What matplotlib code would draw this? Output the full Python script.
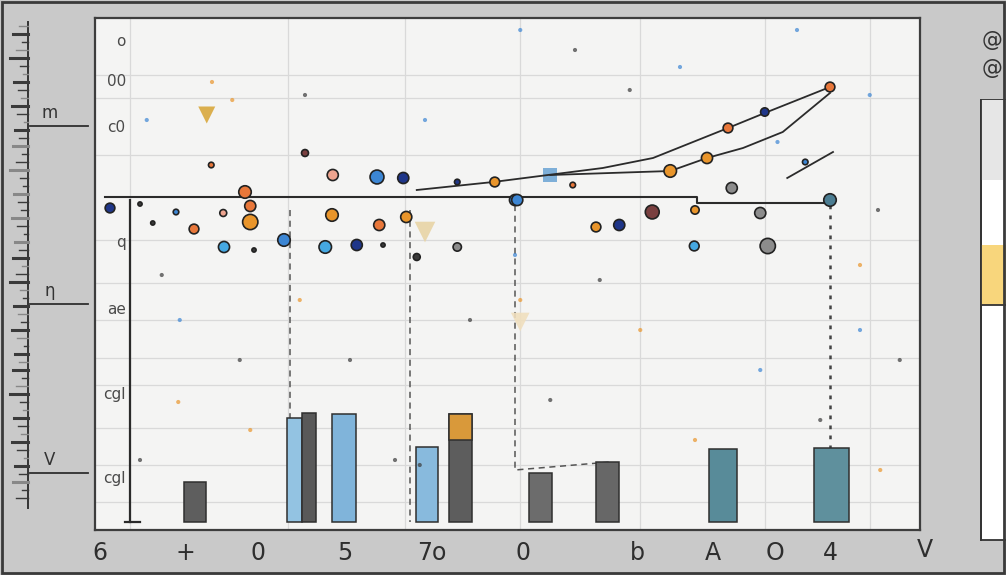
#abstract sketch chart: bars, rising lines, scattered markers, ruler on the left
import numpy as np
import matplotlib.pyplot as plt
from matplotlib.patches import Rectangle

# ---- data ----
bar_x = [1.33, 2.66, 2.85, 3.32, 4.43, 4.87, 5.94, 6.83, 8.37, 9.82]
bar_h = [8.0, 20.8, 21.8, 21.6, 15.0, 21.6, 9.8, 12.0, 14.6, 14.8]
bar_cap = [0, 0, 0, 0, 0, 5.2, 0, 0, 0, 0]

lineA_x = [4.29, 5.31, 6.77, 7.44, 8.44, 8.93, 9.80]
lineA_y = [66.4, 68.0, 70.8, 72.8, 78.8, 81.8, 87.0]
lineB_x = [6.07, 7.67, 8.16, 8.64, 9.17, 9.80]
lineB_y = [69.4, 70.2, 72.8, 74.8, 78.0, 85.8]
lineC_x = [9.23, 9.84]
lineC_y = [68.8, 74.0]
flat_x = [0.13, 8.03, 8.03, 9.80]
flat_y = [65.0, 65.0, 63.8, 63.8]

# big markers: x, y, colour key
pts_x = [2.0, 2.07, 2.07, 1.32, 1.71, 1.08, 0.6, 0.77, 1.72, 2.52, 3.07, 3.49,
         3.84, 2.12, 3.17, 3.76, 4.11, 3.16, 3.79, 4.15, 4.83, 4.29, 2.8, 1.55,
         5.33, 5.6, 4.83, 8.44, 8.93, 9.8, 7.67, 8.16, 6.37, 5.63, 7.43, 6.68,
         6.99, 7.99, 8.97, 8.49, 8.87, 9.8, 8.0, 9.47, 0.2]
pts_y = [66.0, 63.2, 60.0, 58.6, 61.8, 62.0, 63.6, 59.8, 55.0, 56.4, 55.0, 55.4,
         55.4, 54.4, 69.4, 69.0, 68.8, 61.4, 59.4, 61.0, 55.0, 53.0, 73.8, 71.4,
         68.0, 64.4, 68.0, 78.8, 82.0, 87.0, 70.2, 72.8, 67.4, 64.4, 62.0, 59.0,
         59.4, 55.2, 55.2, 66.8, 61.8, 64.4, 62.4, 72.0, 62.8]
pts_c = ['o', 'o', 'y', 'o', 'p', 'b', 'k', 'k', 'c', 'b', 'c', 'n',
         'k', 'k', 'p', 'b', 'n', 'y', 'o', 'y', 'g', 'k', 'r', 'o',
         'y', 'b', 'n', 'o', 'n', 'o', 'y', 'y', 'o', 'b', 'r', 'y',
         'n', 'c', 'g', 'g', 'g', 't', 'y', 'b', 'n']
pts_s = [9, 8, 11, 7, 5, 4, 3, 3, 8, 9, 9, 8,
         3, 3, 8, 10, 8, 9, 8, 8, 6, 5, 5, 4,
         7, 8, 4, 7, 6, 7, 9, 8, 4, 8, 10, 7,
         8, 7, 11, 8, 8, 9, 6, 4, 7]

# tiny specks scattered around
speck_x = [1.56, 0.69, 1.83, 2.8, 4.4, 5.67, 6.4, 7.13, 9.36, 10.33, 10.44, 10.2,
           10.2, 10.73, 10.47, 1.11, 0.89, 4.0, 4.33, 5.6, 5.67, 5.0, 6.73, 7.27,
           8.87, 9.67, 8.0, 6.07, 1.13, 1.93, 2.73, 3.4, 0.6, 2.07, 7.8, 9.1]
speck_y = [88.0, 80.4, 84.4, 85.4, 80.4, 98.4, 94.4, 86.4, 98.4, 85.4, 62.4, 51.4,
           38.4, 32.4, 10.4, 24.0, 49.4, 12.4, 11.4, 53.4, 44.4, 40.4, 48.4, 38.4,
           30.4, 20.4, 16.4, 24.4, 40.4, 32.4, 44.4, 32.4, 12.4, 18.4, 91.0, 76.0]
speck_c = ['y', 'b', 'y', 'k', 'b', 'b', 'k', 'k', 'b', 'b', 'k', 'y',
           'b', 'k', 'y', 'y', 'k', 'k', 'k', 'b', 'y', 'k', 'k', 'y',
           'b', 'k', 'y', 'k', 'b', 'k', 'y', 'k', 'k', 'y', 'b', 'b']

x_ticks = [0.07, 1.2, 2.17, 3.33, 4.49, 5.71, 7.23, 8.24, 9.07, 9.8, 11.07]
x_labels = ['6', '+', '0', '5', '7o', '0', 'b', 'A', 'O', '4', 'V']
y_ticks = [96.0, 88.0, 78.8, 56.0, 42.4, 25.4, 8.8]
y_labels = ['o', '00', 'c0', 'q', 'ae', 'cgl', 'cgl']

grid_x = [0.47, 2.57, 4.13, 5.67, 7.27, 8.93, 10.33]
grid_y = [89.4, 84.8, 73.4, 56.4, 47.8, 40.4, 32.8, 27.4, 18.8, 11.4, 4.0]

ruler_marks = [126, 304, 473]
ruler_names = ['m', 'η', 'V']
ruler_len = [9, 15, 6, 12, 18, 8, 5, 14, 10, 7, 16, 11, 4, 13]

# ---- styles ----
cmap = {'o': '#e8773a', 'y': '#e9952b', 'b': '#3c86d4', 'c': '#45a8e2', 'n': '#1f3689',
        'k': '#3a3a3a', 'p': '#eea48f', 'g': '#8c8c8c', 'r': '#7a4040', 't': '#4b7d92'}
bar_w = [0.29, 0.2, 0.19, 0.32, 0.29, 0.31, 0.31, 0.31, 0.37, 0.47]
bar_col = ['#5e5e5e', '#93c3e2', '#595959', '#80b4da', '#88badd', '#5d5d5d',
           '#6c6c6c', '#676767', '#588b99', '#5f909d']

W, H = 1006, 575
fig = plt.figure(figsize=(W/100, H/100), dpi=100, facecolor='#c9c9c9')
fig.patches.append(Rectangle((0.002, 0.004), 0.996, 0.992, transform=fig.transFigure,
                             fill=False, ec='#3a3a3a', lw=2))

# main panel, px 95..920 x 18..530
ax = fig.add_axes([95/W, 1-530/H, 825/W, 512/H])
ax.set_facecolor('#f4f4f3')
ax.set_xlim(0, 11)
ax.set_ylim(-1.6, 100.8)
for s in ax.spines.values():
    s.set_color('#3d3d3d')
    s.set_linewidth(1.6)

for gx in grid_x:
    ax.axvline(gx, color='#d9d9d9', lw=0.9, zorder=0)
for gy in grid_y:
    ax.axhline(gy, color='#d9d9d9', lw=0.9, zorder=0)

# inner axis
ax.plot([0.47, 0.47], [0, 64.4], color='#2a2a2a', lw=1.6, zorder=2)
ax.plot([0.4, 0.6], [0, 0], color='#2a2a2a', lw=1.6, zorder=2)

# dashed droplines
ax.plot([2.6, 2.6], [62.4, 0], color='#555', lw=1.1, ls=(0, (4, 3)), zorder=2)
ax.plot([4.2, 4.2], [62.4, 0], color='#555', lw=1.1, ls=(0, (4, 3)), zorder=2)
ax.plot([5.6, 5.6, 6.87], [63.4, 10.4, 12.0], color='#555', lw=1.1, ls=(0, (4, 3)), zorder=2)
ax.plot([9.8, 9.8], [63.4, 0.4], color='#444', lw=1.8, ls=(0, (1.5, 2.5)), zorder=2)

# bars
for i in range(len(bar_x)):
    ax.bar(bar_x[i], bar_h[i], width=bar_w[i], color=bar_col[i], edgecolor='#2f2f2f',
           lw=1.1, zorder=3)
    if bar_cap[i] > 0:
        ax.bar(bar_x[i], bar_cap[i], bottom=bar_h[i]-bar_cap[i], width=bar_w[i],
               color='#d9993a', edgecolor='#2f2f2f', lw=1.1, zorder=3)

# lines
ax.plot(flat_x, flat_y, color='#2b2b2b', lw=1.5, zorder=4)
ax.plot(lineA_x, lineA_y, color='#2b2b2b', lw=1.3, zorder=4)
ax.plot(lineB_x, lineB_y, color='#2b2b2b', lw=1.3, zorder=4)
ax.plot(lineC_x, lineC_y, color='#2b2b2b', lw=1.3, zorder=4)

# decorative faded shapes
ax.scatter([1.49, 4.4, 5.67], [81.4, 58.0, 40.0], marker='v', s=[150, 220, 180],
           c=['#d9a83c', '#e8d4a6', '#f0dfbe'], alpha=0.9, zorder=3, lw=0)
ax.scatter([6.07], [69.4], marker='s', s=110, c='#7eafd8', zorder=3, lw=0)

# specks
ax.scatter(speck_x, speck_y, s=9, c=[cmap[k] for k in speck_c], alpha=0.7, lw=0, zorder=3)

# markers
ax.scatter(pts_x, pts_y, s=np.array(pts_s)**2, c=[cmap[k] for k in pts_c],
           edgecolors='#222222', linewidths=1.2, zorder=5)

ax.set_xticks(x_ticks[:-1])
ax.set_xticklabels(x_labels[:-1], fontsize=17, color='#2e2e2e')
ax.tick_params(axis='x', length=0, pad=8)
ax.set_yticks([])
ax.text(x_ticks[-1], -3.2, x_labels[-1], fontsize=17, color='#2e2e2e',
        ha='center', va='top', clip_on=False)
for yv, lab in zip(y_ticks, y_labels):
    ax.text(0.41, yv, lab, fontsize=11, color='#4a4a4a', ha='right', va='center', zorder=6)

# ruler on the left
axl = fig.add_axes([0, 0, 95/W, 1])
axl.set_xlim(0, 95)
axl.set_ylim(H, 0)
axl.axis('off')
axl.plot([28, 28], [22, 508], color='#333', lw=1.4)
for k, ty in enumerate(range(26, 506, 8)):
    L = ruler_len[k % len(ruler_len)]
    axl.plot([28-L, 28], [ty, ty], color='#3a3a3a' if k % 3 else '#888888',
             lw=2.2 if L > 12 else 1.0)
for ry, nm in zip(ruler_marks, ruler_names):
    axl.plot([30, 88], [ry, ry], color='#2e2e2e', lw=1.3)
    axl.text(50, ry-4, nm, fontsize=12, color='#333', ha='center', va='bottom')

# strip on the right
axr = fig.add_axes([920/W, 0, 86/W, 1])
axr.set_xlim(920, 1006)
axr.set_ylim(H, 0)
axr.axis('off')
axr.add_patch(Rectangle((981, 100), 30, 440, fc='white', ec='#333', lw=1.3))
axr.add_patch(Rectangle((981, 100), 30, 80, fc='#e6e6e6', ec='none'))
axr.add_patch(Rectangle((981, 245), 30, 60, fc='#f8d67c', ec='none'))
axr.plot([981, 1006], [305, 305], color='#333', lw=1.3)
axr.plot([981, 981], [100, 540], color='#333', lw=1.3)
axr.text(992, 40, '@', fontsize=15, color='#333', ha='center', va='center')
axr.text(992, 68, '@', fontsize=15, color='#333', ha='center', va='center')

fig.savefig('out.png', dpi=100, facecolor=fig.get_facecolor())
